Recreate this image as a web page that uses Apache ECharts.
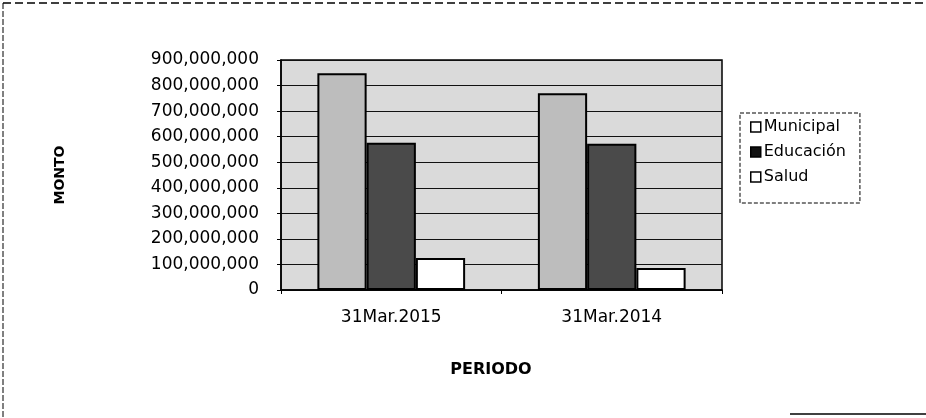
<!DOCTYPE html>
<html>
<head>
<meta charset="utf-8">
<script src="https://cdn.jsdelivr.net/npm/echarts@6/dist/echarts.min.js"></script>
<style>html,body{margin:0;padding:0;background:#fff;}#c{width:926px;height:418px;}</style>
</head>
<body>
<div id="c"></div>
<script>
var categories = ['31Mar.2015', '31Mar.2014'];
var seriesNames = ['Municipal', 'Educación', 'Salud'];
var municipal = [848000000, 770000000];
var educacion = [576000000, 572000000];
var salud = [125000000, 86000000];
var yMin = 0, yMax = 900000000, yStep = 100000000;

var FONT = 'DejaVu Sans';
function fmt(v) { return String(v).replace(/\B(?=(\d{3})+(?!\d))/g, ','); }

var chart = echarts.init(document.getElementById('c'), null, {renderer: 'canvas'});
chart.setOption({
  backgroundColor: '#fff',
  animation: false,
  title: [{
    text: 'PERIODO', left: 486, top: 357, textAlign: 'center',
    textStyle: {fontFamily: FONT, fontSize: 16, fontWeight: 'bold', color: '#000'}
  }],
  grid: {left: 281, right: 204, top: 60, bottom: 128, show: true,
         backgroundColor: '#dadada', borderColor: '#000', borderWidth: 1.5},
  legend: {
    orient: 'vertical', left: 740, top: 113, itemWidth: 10, itemHeight: 10, itemGap: 9,
    padding: [6, 14, 18, 10], borderColor: '#000', borderWidth: 1, borderType: 'dashed',
    textStyle: {fontFamily: FONT, fontSize: 16, color: '#000', padding: [0, 0, 0, -2]},
    data: [
      {name: seriesNames[0], icon: 'rect', itemStyle: {color: '#fff', borderColor: '#000', borderWidth: 1.5}},
      {name: seriesNames[1], icon: 'rect', itemStyle: {color: '#111', borderColor: '#000', borderWidth: 1.5}},
      {name: seriesNames[2], icon: 'rect', itemStyle: {color: '#fff', borderColor: '#000', borderWidth: 1.5}}
    ]
  },
  xAxis: {
    type: 'category', data: categories,
    axisLine: {lineStyle: {color: '#000', width: 1.5}},
    axisTick: {show: true, alignWithLabel: false, length: 4, lineStyle: {color: '#000'}},
    axisLabel: {fontFamily: FONT, fontSize: 17, color: '#000', margin: 19}
  },
  yAxis: {
    type: 'value', min: yMin, max: yMax, interval: yStep,
    name: 'MONTO', nameLocation: 'middle', nameRotate: 90, nameGap: 214,
    nameTextStyle: {fontFamily: FONT, fontSize: 14, fontWeight: 'bold', color: '#000'},
    axisLine: {show: true, lineStyle: {color: '#000', width: 1.5}},
    axisTick: {show: true, length: 4, lineStyle: {color: '#000'}},
    axisLabel: {fontFamily: FONT, fontSize: 17, color: '#000', margin: 22, formatter: fmt},
    splitLine: {lineStyle: {color: '#111', width: 1}}
  },
  series: [
    {name: seriesNames[0], type: 'bar', data: municipal, barGap: '0%', barCategoryGap: '33%',
     itemStyle: {color: '#bdbdbd', borderColor: '#000', borderWidth: 2}},
    {name: seriesNames[1], type: 'bar', data: educacion, barGap: '0%', barCategoryGap: '33%',
     itemStyle: {color: '#4a4a4a', borderColor: '#000', borderWidth: 2}},
    {name: seriesNames[2], type: 'bar', data: salud, barGap: '0%', barCategoryGap: '33%',
     itemStyle: {color: '#fff', borderColor: '#000', borderWidth: 2}}
  ],
  graphic: [
    {type: 'line', shape: {x1: 3, y1: 3, x2: 926, y2: 3}, style: {stroke: '#000', lineWidth: 1.5, lineDash: [8, 4]}},
    {type: 'line', shape: {x1: 3, y1: 3, x2: 3, y2: 418}, style: {stroke: '#000', lineWidth: 1, lineDash: [6, 2]}},
    {type: 'line', shape: {x1: 790, y1: 414, x2: 926, y2: 414}, style: {stroke: '#000', lineWidth: 1.5}}
  ]
});
</script>
</body>
</html>
